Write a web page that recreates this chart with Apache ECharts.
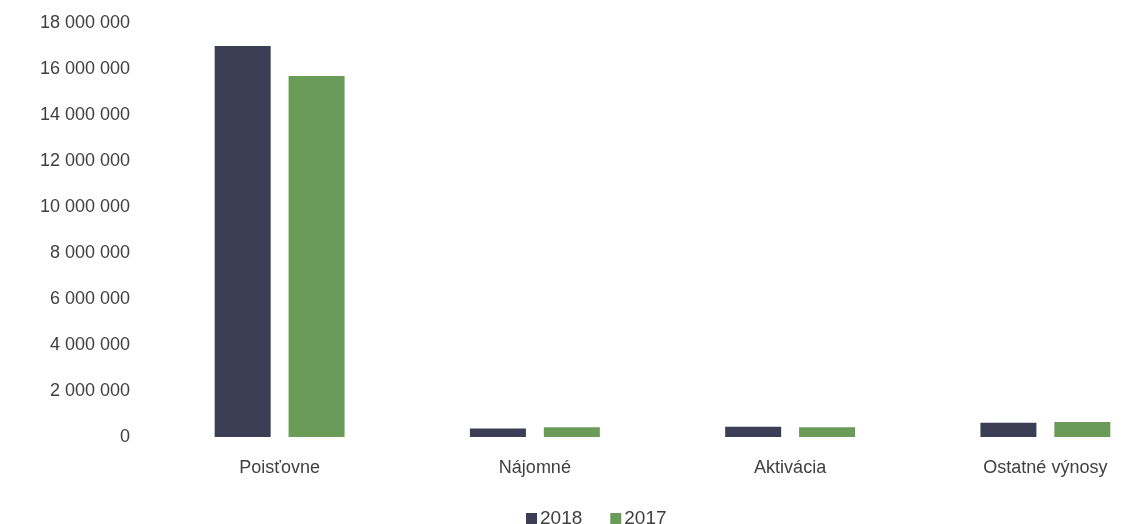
<!DOCTYPE html>
<html>
<head>
<meta charset="utf-8">
<script src="https://cdn.jsdelivr.net/npm/echarts@6/dist/echarts.min.js"></script>
<style>
html,body{margin:0;padding:0;background:#fff;overflow:hidden;width:1131px;height:524px;}
#c{width:1173px;height:524px;}
</style>
</head>
<body>
<div id="c"></div>
<script>
const categories = ['Poisťovne', 'Nájomné', 'Aktivácia', 'Ostatné výnosy'];
const seriesNames = ['2018', '2017'];
const values2018 = [17000000, 370000, 450000, 620000];
const values2017 = [15700000, 420000, 420000, 650000];
const colors = ['#3b3e54', '#6a9b58'];

function fmt(v) {
  return String(v).replace(/\B(?=(\d{3})+(?!\d))/g, ' ');
}

const chart = echarts.init(document.getElementById('c'));
chart.setOption({
  animation: false,
  backgroundColor: '#ffffff',
  textStyle: { fontFamily: 'Liberation Sans, Arial, sans-serif' },
  grid: { left: 152, right: 0, top: 23, bottom: 87, containLabel: false },
  legend: {
    data: seriesNames,
    left: 521,
    top: 504,
    itemWidth: 11,
    itemHeight: 11,
    itemGap: 28,
    icon: 'rect',
    textStyle: { color: '#404040', fontSize: 19, padding: [0, 0, 0, -2] }
  },
  xAxis: {
    type: 'category',
    data: categories,
    axisLine: { show: false },
    axisTick: { show: false },
    axisLabel: { color: '#404040', fontSize: 18, margin: 22 }
  },
  yAxis: {
    type: 'value',
    min: 0,
    max: 18000000,
    interval: 2000000,
    splitLine: { show: false },
    axisLine: { show: false },
    axisTick: { show: false },
    axisLabel: { color: '#404040', fontSize: 18, margin: 22, formatter: fmt }
  },
  series: [
    { name: seriesNames[0], type: 'bar', data: values2018, barWidth: 56, barGap: '32%', itemStyle: { color: colors[0] } },
    { name: seriesNames[1], type: 'bar', data: values2017, barWidth: 56, barGap: '32%', itemStyle: { color: colors[1] } }
  ]
});
</script>
</body>
</html>
